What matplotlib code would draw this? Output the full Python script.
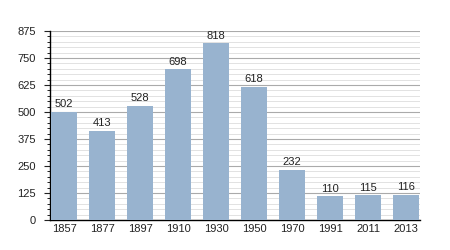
import matplotlib
matplotlib.use("Agg")
import matplotlib.pyplot as plt
import numpy as np

plt.rcParams["font.family"] = ["Liberation Sans", "DejaVu Sans"]

years = ["1857", "1877", "1897", "1910", "1930", "1950", "1970", "1991", "2011", "2013"]
population = [502, 413, 528, 698, 818, 618, 232, 110, 115, 116]

fig = plt.figure(figsize=(4.5, 2.5), dpi=100)
ax = fig.add_axes([0.111, 0.12, 0.823, 0.756])

x = np.arange(len(years))
ax.bar(x, population, width=0.68, color="#98b3cf", zorder=3)
for xi, v in zip(x, population):
    ax.text(xi, v + 12, str(v), ha="center", va="bottom", fontsize=8, color="#222222")

ax.set_xlim(-0.37, len(years) - 0.63)
ax.set_ylim(0, 875)
ax.set_yticks(np.arange(0, 876, 125))
ax.set_yticks(np.arange(0, 876, 25), minor=True)
ax.set_xticks(x)
ax.set_xticklabels(years)

ax.grid(axis="y", which="major", color="#aaaaaa", linewidth=0.8, zorder=0)
ax.grid(axis="y", which="minor", color="#dddddd", linewidth=0.6, zorder=0)

for s in ["top", "right"]:
    ax.spines[s].set_visible(False)
ax.spines["left"].set_linewidth(1)
ax.spines["bottom"].set_linewidth(1)
ax.tick_params(axis="both", labelsize=8, colors="#222222")
ax.tick_params(axis="x", length=0, pad=3)
ax.tick_params(axis="y", which="major", length=4, direction="out", pad=6)
ax.tick_params(axis="y", which="minor", length=2, direction="out")

fig.savefig("out.png", dpi=100)
